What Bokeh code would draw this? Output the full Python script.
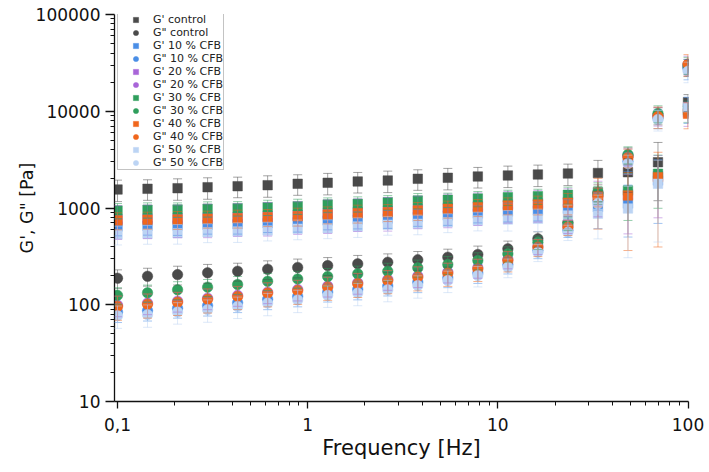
from bokeh.plotting import figure
from bokeh.models import (ColumnDataSource, Whisker, TeeHead, FixedTicker, Legend,
                          LegendItem, Range1d, CustomJSTickFormatter)
from bokeh.embed import file_html
from bokeh.resources import INLINE

# ---------------- data ----------------
freq_hz = [0.1, 0.1438, 0.2069, 0.2976, 0.4281, 0.6158, 0.8859, 1.274, 1.833, 2.637,
           3.793, 5.456, 7.848, 11.29, 16.24, 23.36, 33.6, 48.33, 69.52, 100.0]

x_ticks = [0.1, 1, 10, 100]
x_tick_labels = ["0,1", "1", "10", "100"]
x_minor_ticks = [0.2, 0.3, 0.4, 0.5, 0.6, 0.7, 0.8, 0.9,
                 2, 3, 4, 5, 6, 7, 8, 9,
                 20, 30, 40, 50, 60, 70, 80, 90]
y_ticks = [10, 100, 1000, 10000, 100000]
y_tick_labels = ["10", "100", "1000", "10000", "100000"]
y_minor_ticks = [20, 30, 40, 50, 60, 70, 80, 90,
                 200, 300, 400, 500, 600, 700, 800, 900,
                 2000, 3000, 4000, 5000, 6000, 7000, 8000, 9000,
                 20000, 30000, 40000, 50000, 60000, 70000, 80000, 90000]

labels = ["G' control", 'G" control', "G' 10 % CFB", 'G" 10 % CFB',
          "G' 20 % CFB", 'G" 20 % CFB', "G' 30 % CFB", 'G" 30 % CFB',
          "G' 40 % CFB", 'G" 40 % CFB', "G' 50 % CFB", 'G" 50 % CFB']

g1_control = [1553, 1579, 1602, 1641, 1680, 1721, 1779, 1822, 1879, 1924,
              2003, 2052, 2117, 2168, 2220, 2273, 2300, 2344, 2974, 12400]
g2_control = [188, 197, 205, 214, 222, 233, 243, 254, 265, 275,
              291, 310, 331, 379, 481, 713, 1446, 3488, 9040, 28520]
g1_cfb10 = [644, 655, 659, 671, 680, 697, 713, 743, 760, 779,
            807, 837, 877, 920, 942, 981, 1019, 1113, 1924, 10680]
g2_cfb10 = [84, 87, 92, 98, 105, 114, 122, 135, 144, 156,
            171, 190, 213, 260, 365, 590, 1190, 3050, 8450, 27800]
g1_cfb20 = [765, 778, 783, 796, 808, 826, 847, 880, 908, 930,
            968, 1008, 1046, 1090, 1116, 1163, 1350, 1385, 2140, 9690]
g2_cfb20 = [99, 104, 109, 117, 125, 135, 144, 156, 169, 183,
            198, 218, 241, 294, 402, 648, 1340, 3390, 9000, 30400]
g1_cfb30 = [942, 958, 965, 981, 995, 1019, 1044, 1087, 1105, 1148,
            1195, 1216, 1254, 1293, 1324, 1369, 1456, 1517, 2257, 10180]
g2_cfb30 = [125, 133, 143, 152, 162, 175, 185, 196, 209, 222,
            241, 261, 287, 336, 443, 687, 1412, 3573, 9480, 30060]
g1_cfb40 = [743, 755, 760, 773, 785, 803, 823, 856, 884, 905,
            942, 981, 1019, 1061, 1087, 1132, 1315, 1346, 2081, 9410]
g2_cfb40 = [96, 101, 106, 114, 122, 132, 140, 152, 165, 178,
            193, 212, 235, 287, 393, 633, 1315, 3327, 8825, 30780]
g1_cfb50 = [532, 541, 549, 562, 572, 585, 610, 618, 644, 671,
            687, 713, 743, 760, 773, 837, 871, 988, 1779, 11010]
g2_cfb50 = [77, 79, 84, 89, 96, 104, 112, 125, 132, 143,
            158, 178, 201, 244, 349, 562, 1113, 2883, 8215, 25940]

# standard deviation, % of the mean
sd_g1_control = [25, 24, 25, 25, 24, 25, 24, 25, 24, 25, 24, 25, 24, 25, 25, 25, 35, 38, 60, 20]
sd_g2_control = [22, 21, 22, 22, 21, 22, 22, 21, 22, 22, 22, 21, 22, 20, 18, 15, 20, 20, 20, 20]
sd_g1_cfb10 = [20, 20, 21, 20, 21, 20, 21, 20, 20, 21, 20, 21, 20, 22, 22, 24, 40, 55, 64, 30]
sd_g2_cfb10 = [22, 22, 21, 22, 21, 22, 22, 21, 22, 21, 22, 21, 22, 20, 18, 16, 20, 22, 22, 24]
sd_g1_cfb20 = [38, 38, 37, 38, 37, 38, 37, 38, 37, 38, 37, 38, 37, 36, 36, 36, 40, 61, 63, 28]
sd_g2_cfb20 = [24, 24, 23, 24, 23, 24, 24, 23, 24, 23, 24, 23, 22, 20, 18, 16, 20, 20, 22, 22]
sd_g1_cfb30 = [18, 18, 17, 18, 17, 18, 18, 17, 18, 17, 18, 17, 18, 18, 18, 20, 25, 51, 56, 25]
sd_g2_cfb30 = [20, 20, 21, 20, 21, 20, 20, 21, 20, 21, 20, 21, 20, 18, 16, 15, 18, 20, 20, 20]
sd_g1_cfb40 = [20, 20, 21, 20, 21, 20, 21, 20, 21, 20, 21, 20, 20, 20, 22, 25, 54, 73, 81, 30]
sd_g2_cfb40 = [28, 28, 27, 28, 27, 28, 28, 27, 28, 27, 28, 27, 26, 24, 20, 18, 22, 22, 25, 25]
sd_g1_cfb50 = [22, 22, 23, 22, 23, 22, 23, 22, 23, 22, 23, 22, 22, 24, 26, 28, 45, 69, 75, 30]
sd_g2_cfb50 = [26, 26, 25, 26, 25, 26, 26, 25, 26, 25, 26, 25, 24, 22, 20, 18, 22, 22, 24, 24]

values = [g1_control, g2_control, g1_cfb10, g2_cfb10, g1_cfb20, g2_cfb20,
          g1_cfb30, g2_cfb30, g1_cfb40, g2_cfb40, g1_cfb50, g2_cfb50]
errors = [sd_g1_control, sd_g2_control, sd_g1_cfb10, sd_g2_cfb10, sd_g1_cfb20, sd_g2_cfb20,
          sd_g1_cfb30, sd_g2_cfb30, sd_g1_cfb40, sd_g2_cfb40, sd_g1_cfb50, sd_g2_cfb50]

# ---------------- styling ----------------
series_colors = ["#4a4a4a", "#4a4a4a", "#4a8ee6", "#4a8ee6", "#a865d8", "#a865d8",
                 "#2f9e5c", "#2f9e5c", "#f0661c", "#f0661c", "#bcd4f4", "#bcd4f4"]
series_markers = ["square", "circle"] * 6
FONT = "DejaVu Sans"

p = figure(width=709, height=472, x_axis_type="log", y_axis_type="log",
           x_range=Range1d(0.0964, 100.6), y_range=Range1d(10, 100000),
           output_backend="svg", toolbar_location=None,
           min_border_left=114, min_border_right=21, min_border_top=14,
           min_border_bottom=71)
p.background_fill_color = "white"
p.border_fill_color = "white"
p.outline_line_color = None
p.grid.visible = False

items = []
for lab, vals, err, col, mk in zip(labels, values, errors, series_colors, series_markers):
    src = ColumnDataSource(dict(
        x=freq_hz, y=vals,
        upper=[v * (1 + e / 100.0) for v, e in zip(vals, err)],
        lower=[v * (1 - e / 100.0) for v, e in zip(vals, err)],
    ))
    size = 9.5 if mk == "square" else 10.5
    r = p.scatter("x", "y", source=src, marker=mk, size=size,
                  fill_color=col, line_color=col, line_width=0.5)
    w = Whisker(base="x", upper="upper", lower="lower", source=src, dimension="height",
                line_color=col, line_alpha=0.5, line_width=1,
                upper_head=TeeHead(size=9, line_color=col, line_alpha=0.5, line_width=1),
                lower_head=TeeHead(size=9, line_color=col, line_alpha=0.5, line_width=1),
                level="annotation")
    p.add_layout(w)
    items.append(LegendItem(label=lab, renderers=[r]))

legend = Legend(items=items, location=(3, 231), margin=0, padding=0, spacing=0,
                glyph_height=13, glyph_width=35, label_height=13, label_standoff=0,
                label_text_font=FONT, label_text_font_size="11px",
                label_text_color="#222222",
                border_line_color="#888888", border_line_width=1,
                background_fill_color="white", background_fill_alpha=1)
p.add_layout(legend)

# axes
x_map = {str(t): l for t, l in zip(x_ticks, x_tick_labels)}
y_map = {str(t): l for t, l in zip(y_ticks, y_tick_labels)}
p.xaxis.ticker = FixedTicker(ticks=x_ticks, minor_ticks=x_minor_ticks)
p.yaxis.ticker = FixedTicker(ticks=y_ticks, minor_ticks=y_minor_ticks)
p.xaxis.formatter = CustomJSTickFormatter(args=dict(m=x_map),
                                          code="const k = String(tick); return (k in m) ? m[k] : k;")
p.yaxis.formatter = CustomJSTickFormatter(args=dict(m=y_map),
                                          code="const k = String(tick); return (k in m) ? m[k] : k;")

p.xaxis.axis_label = "Frequency [Hz]"
p.yaxis.axis_label = 'G\', G" [Pa]'
for ax in (p.xaxis, p.yaxis):
    ax.axis_label_text_font = FONT
    ax.axis_label_text_font_style = "normal"
    ax.axis_label_text_color = "#111111"
    ax.major_label_text_font = FONT
    ax.major_label_text_font_size = "17px"
    ax.major_label_text_color = "#111111"
    ax.axis_line_color = "#111111"
    ax.axis_line_width = 1.3
    ax.major_tick_line_color = "#111111"
    ax.major_tick_line_width = 1.3
    ax.minor_tick_line_color = "#111111"
    ax.minor_tick_line_width = 1
    ax.major_tick_in = 0
    ax.minor_tick_in = 0
    ax.minor_tick_out = 4

p.xaxis.axis_label_text_font_size = "21px"
p.xaxis.axis_label_standoff = 2
p.xaxis.major_tick_out = 7
p.xaxis.major_label_standoff = 9

p.yaxis.axis_label_text_font_size = "17.5px"
p.yaxis.axis_label_standoff = -4
p.yaxis.major_tick_out = 9
p.yaxis.major_label_standoff = 5

open("out.html", "w").write(file_html(p, INLINE))
